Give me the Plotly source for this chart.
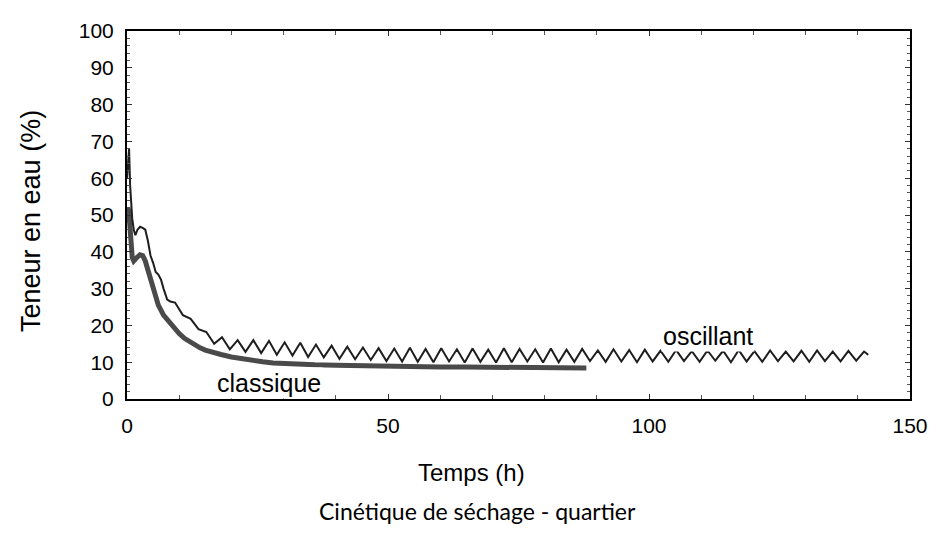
import plotly.graph_objects as go

# ---------------- data ----------------
t_classique = [0, 0.2, 0.4, 0.6, 0.8, 1.0, 1.3, 1.6, 2.0, 2.5, 3.0, 3.5, 4.0, 4.5,
               5.0, 5.5, 6.0, 7.0, 8.0, 9.0, 10.0, 11.0, 12.0, 13.0, 14.0, 15.0,
               16.0, 18.0, 20.0, 22.0, 24.0, 26.0, 28.0, 30.0, 33.0, 36.0, 40.0,
               45.0, 50.0, 55.0, 60.0, 65.0, 70.0, 75.0, 80.0, 85.0, 88.0]
v_classique = [48, 52, 50, 45, 41, 38.5, 37.5, 37.8, 38.6, 39.2, 39.0, 37.5, 35.0, 32.0,
               30.0, 28.0, 25.5, 22.8, 21.0, 19.3, 17.8, 16.5, 15.5, 14.6, 13.9, 13.3,
               12.8, 12.1, 11.4, 10.9, 10.4, 10.1, 9.8, 9.6, 9.5, 9.3, 9.2,
               9.0, 8.9, 8.8, 8.7, 8.7, 8.6, 8.6, 8.5, 8.4, 8.4]

t_oscillant = [0, 0.2, 0.4, 0.6, 0.8, 1.0, 1.3, 1.6, 2.0, 2.5, 3.0, 3.5, 4.0, 4.5,
               5.0, 5.5, 6.0, 6.5, 7.0, 7.7, 8.3, 9.2, 10.7, 12.2, 13.7, 15.2, 16.7,
               18.2, 19.7, 21.2, 22.7, 24.2, 25.7, 27.2, 28.7, 30.2, 31.7, 33.2, 34.7,
               36.2, 37.7, 39.2, 40.7, 42.2, 43.7, 45.2, 46.7, 48.2, 49.7, 51.2, 52.7,
               54.2, 55.7, 57.2, 58.7, 60.2, 61.7, 63.2, 64.7, 66.2, 67.7, 69.2, 70.7,
               72.2, 73.7, 75.2, 76.7, 78.2, 79.7, 81.2, 82.7, 84.2, 85.7, 87.2, 88.7,
               90.2, 91.7, 93.2, 94.7, 96.2, 97.7, 99.2, 100.7, 102.2, 103.7, 105.2,
               106.7, 108.2, 109.7, 111.2, 112.7, 114.2, 115.7, 117.2, 118.7, 120.2,
               121.7, 123.2, 124.7, 126.2, 127.7, 129.2, 130.7, 132.2, 133.7, 135.2,
               136.7, 138.2, 139.7, 141.2, 142.0]
v_oscillant = [60, 66, 68, 58, 52, 49, 46, 44.5, 46, 46.8, 46.5, 46, 43, 39,
               37, 34.5, 33.8, 32.5, 30, 27, 26.5, 26.2, 22.8, 21.8, 19.0, 18.2, 15.0,
               16.8, 13.5, 16.0, 12.8, 16.0, 12.5, 15.8, 12.0, 15.4, 11.8, 15.3, 11.4,
               14.8, 11.3, 14.5, 10.9, 14.2, 10.8, 14.0, 10.6, 13.8, 10.3, 13.7, 10.2,
               13.9, 10.1, 13.6, 10.0, 13.8, 10.2, 13.5, 9.9, 13.7, 10.1, 13.4, 9.9,
               13.8, 10.0, 13.6, 10.2, 13.5, 9.9, 13.7, 10.0, 13.4, 10.1, 13.6, 10.3,
               13.2, 10.1, 13.5, 10.2, 13.3, 10.0, 13.4, 10.2, 13.1, 10.1, 13.3,
               10.3, 13.0, 10.1, 13.2, 10.4, 13.1, 10.0, 13.3, 10.2, 13.0,
               10.1, 13.2, 10.3, 12.9, 10.2, 13.1, 10.1, 13.2, 10.3, 12.9,
               10.2, 13.1, 10.4, 12.9, 12.0]

x_ticks = [0, 50, 100, 150]
y_ticks = [0, 10, 20, 30, 40, 50, 60, 70, 80, 90, 100]

label_classique = "classique"
label_oscillant = "oscillant"
x_title = "Temps (h)"
y_title = "Teneur en eau (%)"
caption = "Cinétique de séchage - quartier"

# ---------------- figure ----------------
FONT = "Arial"

fig = go.Figure()
fig.add_trace(go.Scatter(x=t_classique, y=v_classique, mode="lines",
                         line=dict(color="#4a4a4a", width=5), name=label_classique,
                         showlegend=False))
fig.add_trace(go.Scatter(x=t_oscillant, y=v_oscillant, mode="lines",
                         line=dict(color="#1e1e1e", width=2), name=label_oscillant,
                         showlegend=False))

axis_common = dict(
    showgrid=False, zeroline=False, showline=True, linecolor="black", linewidth=2,
    mirror="ticks", ticks="inside", ticklen=5, tickwidth=1, tickcolor="#333",
    tickfont=dict(family=FONT, size=21, color="black"),
)
fig.update_xaxes(range=[0, 150], tickvals=x_ticks, ticklabelstandoff=7,
                 minor=dict(dtick=10, ticks="inside", ticklen=4, tickcolor="#555"),
                 **axis_common)
fig.update_yaxes(range=[0, 100], tickvals=y_ticks, ticklabelstandoff=7,
                 minor=dict(dtick=2, ticks="inside", ticklen=3, tickcolor="#555"),
                 **axis_common)

fig.add_annotation(x=27.2, y=4.3, text=label_classique, showarrow=False,
                   font=dict(family=FONT, size=25, color="black"), bgcolor="white")
fig.add_annotation(x=111.3, y=17.2, text=label_oscillant, showarrow=False,
                   font=dict(family=FONT, size=25, color="black"), bgcolor="white")

fig.add_annotation(xref="paper", yref="paper", x=0.44, y=0, yanchor="middle",
                   yshift=-73, text=x_title, showarrow=False,
                   font=dict(family=FONT, size=24, color="black"))
fig.add_annotation(xref="paper", yref="paper", x=0, y=0.5, xanchor="center",
                   xshift=-96, yshift=-6, textangle=-90, text=y_title, showarrow=False,
                   font=dict(family=FONT, size=27, color="black"))
fig.add_annotation(xref="paper", yref="paper", x=0.448, y=0, yanchor="middle",
                   yshift=-112, text=caption, showarrow=False,
                   font=dict(family="Lato", size=23, color="black"))

fig.update_layout(width=952, height=536, margin=dict(l=119, r=50, t=11, b=145),
                  plot_bgcolor="white", paper_bgcolor="white")

fig.write_html("out.html")
